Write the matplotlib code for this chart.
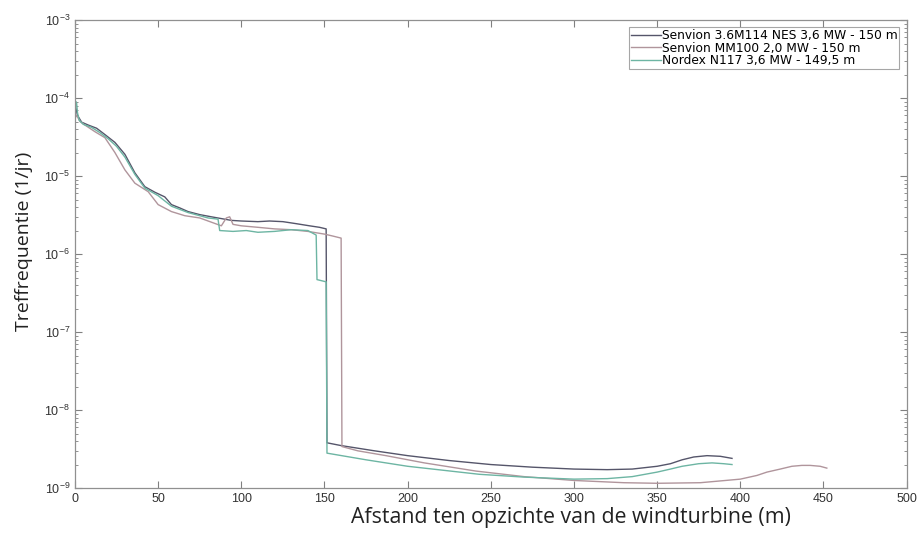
import matplotlib
matplotlib.use("Agg")
import matplotlib.pyplot as plt
from matplotlib.ticker import LogLocator, MultipleLocator, NullFormatter

# values
labels = [
    "Senvion 3.6M114 NES 3,6 MW - 150 m",
    "Senvion MM100 2,0 MW - 150 m",
    "Nordex N117 3,6 MW - 149,5 m",
]

x_m114 = [0, 0.5, 1.5, 4, 8, 13, 18, 24, 30, 36, 42, 48, 54, 58, 63, 68, 75, 82,
          94, 100, 110, 117, 125, 133, 141, 147, 151, 151.5, 160, 180, 200, 225,
          250, 275, 300, 320, 335, 350, 358, 365, 372, 380, 388, 395]
y_m114 = [6.5e-5, 7.5e-5, 6e-5, 4.9e-5, 4.5e-5, 4.1e-5, 3.4e-5, 2.7e-5, 1.9e-5,
          1.1e-5, 7.3e-6, 6.2e-6, 5.4e-6, 4.3e-6, 3.9e-6, 3.5e-6, 3.2e-6, 3.0e-6,
          2.7e-6, 2.65e-6, 2.6e-6, 2.65e-6, 2.6e-6, 2.45e-6, 2.3e-6, 2.2e-6, 2.1e-6,
          3.8e-9, 3.5e-9, 3.0e-9, 2.6e-9, 2.25e-9, 2.0e-9, 1.85e-9, 1.75e-9,
          1.72e-9, 1.75e-9, 1.9e-9, 2.05e-9, 2.3e-9, 2.5e-9, 2.6e-9, 2.55e-9, 2.4e-9]

x_mm100 = [0, 1, 3, 6, 12, 18, 24, 30, 36, 44, 50, 58, 66, 75, 88, 91, 93, 95,
           100, 110, 120, 130, 140, 150, 155, 160, 160.5, 170, 187, 210, 241, 270,
           300, 330, 350, 376, 400, 410, 416, 424, 431, 437, 442, 448, 452]
y_mm100 = [5.5e-5, 6e-5, 5e-5, 4.5e-5, 3.7e-5, 3.1e-5, 2.0e-5, 1.2e-5, 8.1e-6,
           6.3e-6, 4.3e-6, 3.5e-6, 3.1e-6, 2.9e-6, 2.3e-6, 2.9e-6, 3.0e-6, 2.4e-6,
           2.3e-6, 2.2e-6, 2.1e-6, 2.05e-6, 1.95e-6, 1.8e-6, 1.7e-6, 1.6e-6,
           3.4e-9, 3.0e-9, 2.6e-9, 2.1e-9, 1.65e-9, 1.4e-9, 1.25e-9, 1.17e-9,
           1.15e-9, 1.17e-9, 1.3e-9, 1.45e-9, 1.6e-9, 1.75e-9, 1.9e-9, 1.95e-9,
           1.95e-9, 1.9e-9, 1.8e-9]

x_n117 = [0, 0.5, 1, 1.5, 2.5, 5, 10, 15, 20, 25, 30, 36, 42, 50, 58, 68, 80, 86,
          87, 95, 103, 110, 120, 130, 140, 145, 145.5, 151, 151.5, 175, 200, 243,
          270, 300, 320, 335, 350, 358, 365, 375, 383, 390, 395]
y_n117 = [6e-5, 9e-5, 8.5e-5, 6.5e-5, 5.2e-5, 4.6e-5, 4.2e-5, 3.6e-5, 3.0e-5,
          2.4e-5, 1.75e-5, 1.05e-5, 7.0e-6, 5.6e-6, 4.1e-6, 3.4e-6, 2.9e-6, 2.8e-6,
          2.0e-6, 1.95e-6, 2.0e-6, 1.9e-6, 1.95e-6, 2.05e-6, 2.0e-6, 1.75e-6,
          4.7e-7, 4.4e-7, 2.8e-9, 2.3e-9, 1.9e-9, 1.5e-9, 1.38e-9, 1.3e-9,
          1.32e-9, 1.4e-9, 1.6e-9, 1.75e-9, 1.9e-9, 2.05e-9, 2.1e-9, 2.05e-9, 2.0e-9]

series = [(x_m114, y_m114), (x_mm100, y_mm100), (x_n117, y_n117)]
colors = ["#55556a", "#b0959c", "#6db5a3"]

fig = plt.figure(figsize=(9.2, 5.34), dpi=100)
ax = fig.add_axes([0.0815, 0.0861, 0.904, 0.8764])

for (xs, ys), lab, col in zip(series, labels, colors):
    ax.plot(xs, ys, color=col, lw=1.0, label=lab)

ax.set_yscale("log")
ax.set_xlim(0, 500)
ax.set_ylim(1e-9, 1e-3)
ax.xaxis.set_major_locator(MultipleLocator(50))
ax.yaxis.set_major_locator(LogLocator(base=10, numticks=10))
ax.yaxis.set_minor_locator(LogLocator(base=10, subs=range(2, 10), numticks=10))
ax.yaxis.set_minor_formatter(NullFormatter())

ax.tick_params(which="both", direction="in", top=True, right=True,
               colors="#808080", labelcolor="#333333", labelsize=9)
ax.tick_params(which="major", length=5)
ax.tick_params(which="minor", length=2.5)
for tl in ax.get_xticklabels() + ax.get_yticklabels():
    tl.set_fontfamily("Liberation Sans")
for sp in ax.spines.values():
    sp.set_color("#909090")
    sp.set_linewidth(0.9)

ax.set_xlabel("Afstand ten opzichte van de windturbine (m)", fontsize=15.3,
              family="Open Sans", color="#222222")
ax.xaxis.set_label_coords(0.596, -0.041)
ax.set_ylabel("Treffrequentie (1/jr)", fontsize=14, family="Open Sans",
              color="#222222")
ax.yaxis.set_label_coords(-0.05, 0.528)

leg = ax.legend(loc="upper right", frameon=True, fancybox=False,
                handlelength=2.4, handletextpad=0.1, labelspacing=-0.05,
                borderpad=0.15, borderaxespad=0.6,
                prop={"family": "DejaVu Sans", "size": 8.8})
leg.get_frame().set_edgecolor("#909090")
leg.get_frame().set_linewidth(0.8)

fig.savefig("out.png", dpi=100)
